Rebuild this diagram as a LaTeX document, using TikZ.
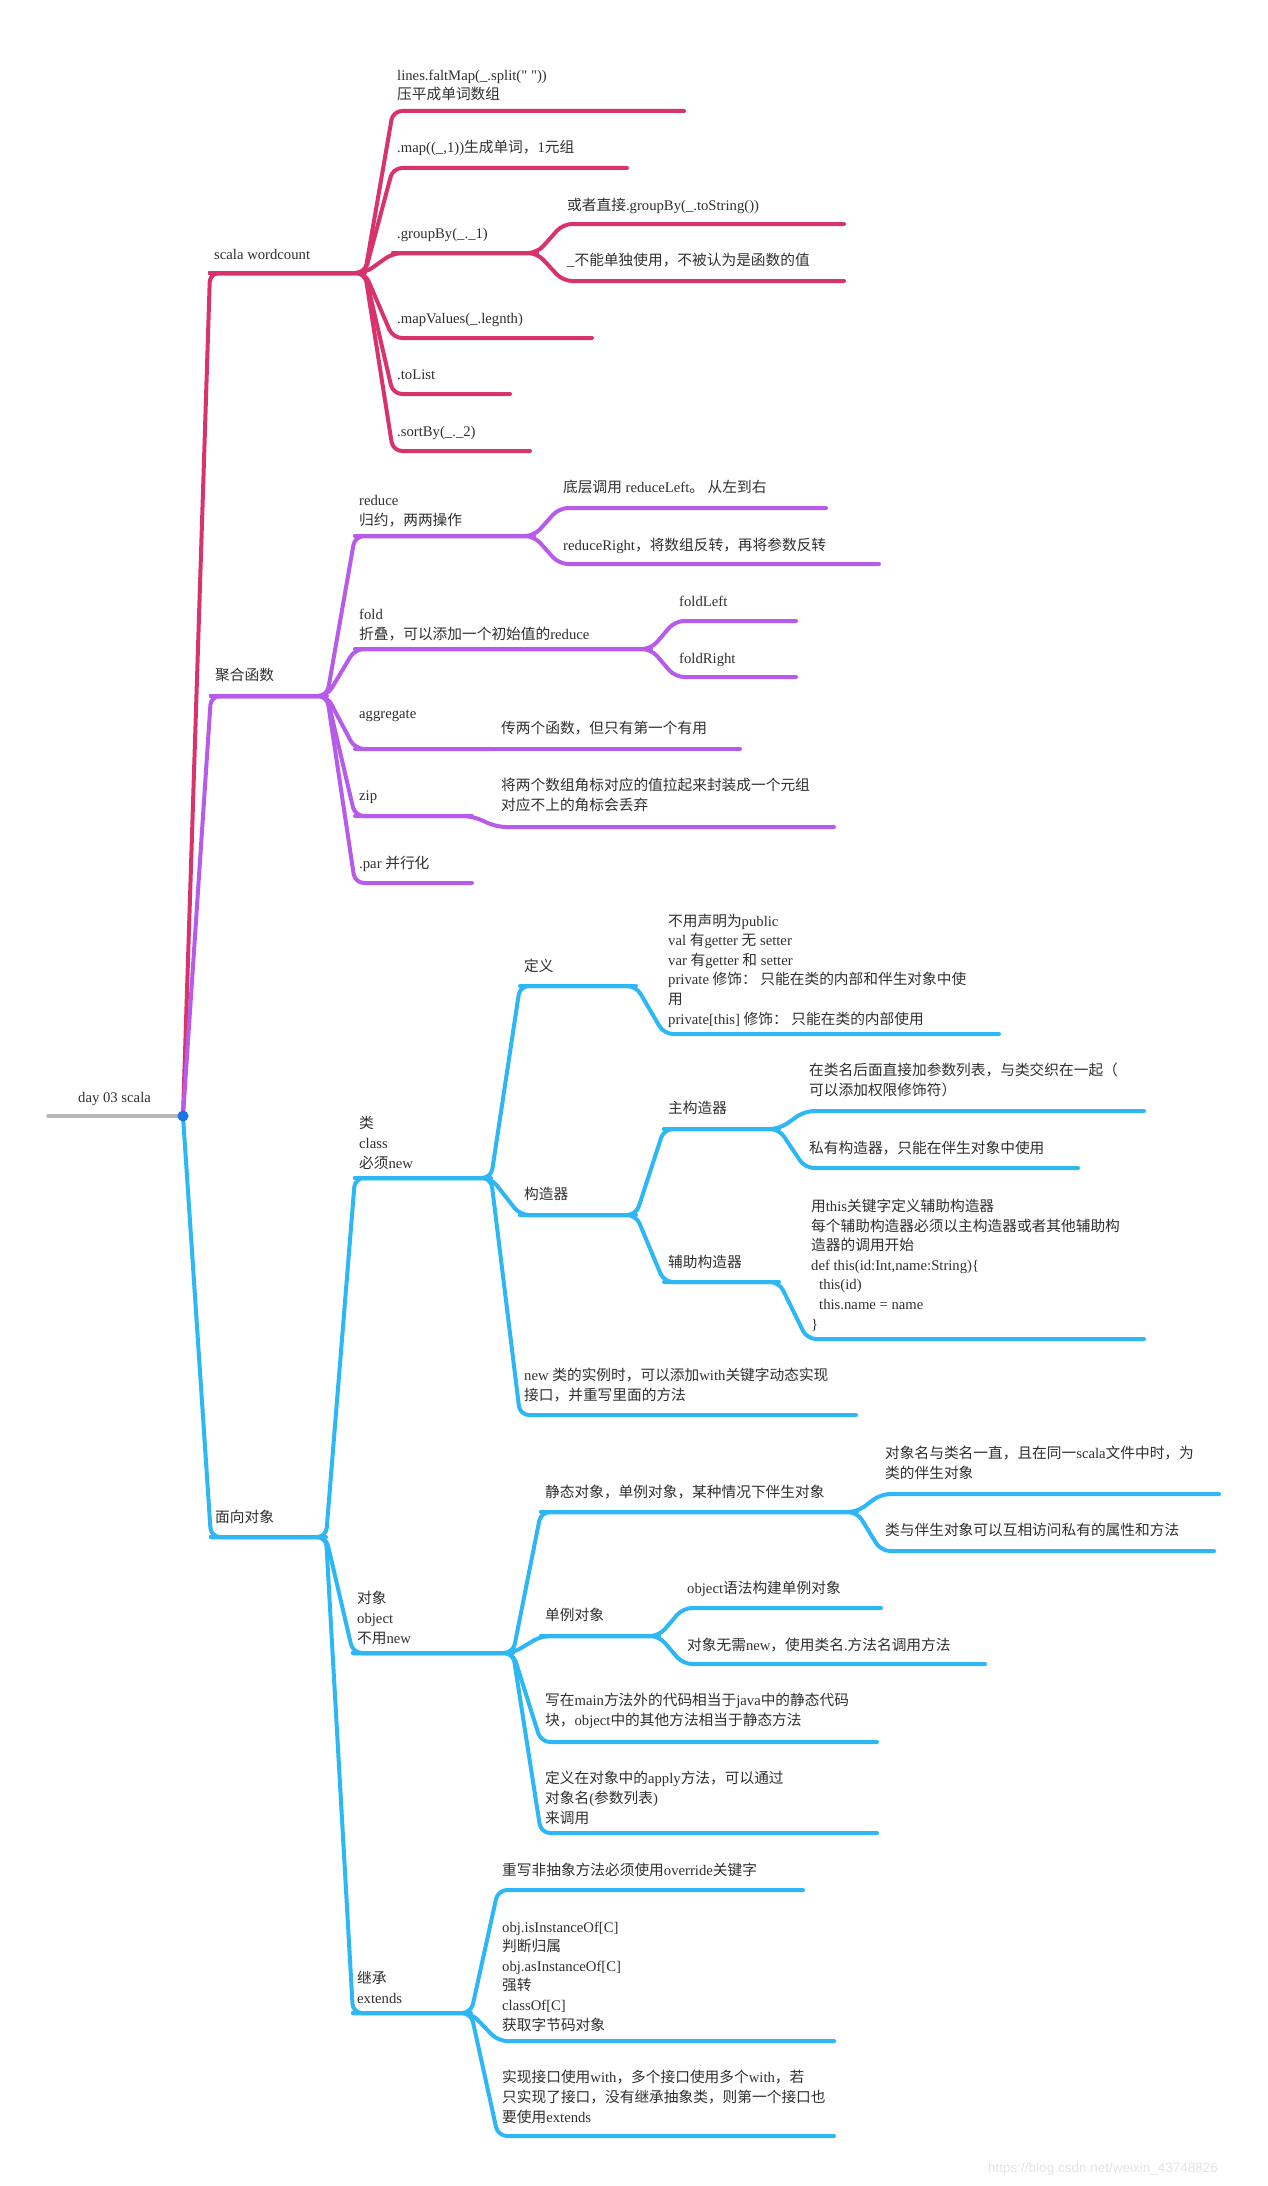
\documentclass[tikz,border=0pt]{standalone}
\usepackage{fontspec}
\setmainfont{Liberation Serif}
\newfontfamily\latinfam{Liberation Serif}
\newfontfamily\cjkfam{Noto Sans CJK SC}
\newfontfamily\wmfont{Liberation Sans}
% automatic switch between Latin and CJK fonts
\XeTeXinterchartokenstate=1
\newXeTeXintercharclass\CJKcls
\newcount\cjkc
\cjkc="3000 \loop \XeTeXcharclass\cjkc=\CJKcls \ifnum\cjkc<"303F \advance\cjkc by 1 \repeat
\cjkc="4E00 \loop \XeTeXcharclass\cjkc=\CJKcls \ifnum\cjkc<"9FFF \advance\cjkc by 1 \repeat
\cjkc="FF00 \loop \XeTeXcharclass\cjkc=\CJKcls \ifnum\cjkc<"FFEF \advance\cjkc by 1 \repeat
\XeTeXinterchartoks 0 \CJKcls = {\cjkfam}
\XeTeXinterchartoks 4095 \CJKcls = {\cjkfam}
\XeTeXinterchartoks \CJKcls 0 = {\latinfam}
\XeTeXinterchartoks \CJKcls 4095 = {\latinfam}

\definecolor{cR}{HTML}{D8336C}
\definecolor{cP}{HTML}{B65BEA}
\definecolor{cB}{HTML}{2DB7F5}
\definecolor{cDot}{HTML}{1A73E8}
\definecolor{cGray}{HTML}{B8B8B8}
\definecolor{tx}{HTML}{303030}
\definecolor{wm}{HTML}{E4E4E4}

\newcommand\ml[1]{\vbox{\halign{##\hfil\cr#1\crcr}}}
% name, color, corner x, underline y, end x, gap to baseline, text
\newcommand\topic[7]{%
  \coordinate (#1c) at (#3,#4);
  \coordinate (#1e) at (#5,#4);
  \node[txt] (#1) at (#3+4,#4-#6) {#7};}
\newcommand\lnk[3]{\draw[ln,#1] (#2c) -- (#2e) -- (#3c) -- (#3e);}

\begin{document}
\begin{tikzpicture}[x=1pt,y=-1pt,
  ln/.style={line width=4pt,line cap=round,line join=round,rounded corners=9pt},
  txt/.style={anchor=base west,inner sep=0pt,text=tx,font=\latinfam\fontsize{14.7}{19.6}\selectfont}]
\fill[white] (0,0) rectangle (1268,2186);
\useasboundingbox (0,0) rectangle (1268,2186);

% root
\coordinate (root) at (183,1116);
\coordinate (rootL) at (48,1116);
\node[txt] (rt) at (78,1102) {day 03 scala};

% ---------- red: scala wordcount
\topic{sc}{cR}{210}{273}{365}{14}{scala wordcount}
\topic{falt}{cR}{393}{111}{684}{11}{\ml{lines.faltMap(\_.split(" "))\cr 压平成单词数组}}
\topic{map}{cR}{393}{168}{627}{15}{.map((\_,1))生成单词，1元组}
\topic{grp}{cR}{393}{253}{537}{15}{.groupBy(\_.\_1)}
\topic{grpA}{cR}{563}{224}{844}{13}{或者直接.groupBy(\_.toString())}
\topic{grpB}{cR}{563}{281}{844}{16}{\_不能单独使用，不被认为是函数的值}
\topic{mapv}{cR}{393}{338}{592}{15}{.mapValues(\_.legnth)}
\topic{tol}{cR}{393}{394}{510}{15}{.toList}
\topic{sort}{cR}{393}{451}{530}{15}{.sortBy(\_.\_2)}

% ---------- purple: 聚合函数
\topic{agg}{cP}{211}{696}{327}{16}{聚合函数}
\topic{red}{cP}{355}{536}{534}{11}{\ml{reduce\cr 归约，两两操作}}
\topic{redA}{cP}{559}{508}{826}{16}{底层调用 reduceLeft。 从左到右}
\topic{redB}{cP}{559}{564}{879}{14}{reduceRight，将数组反转，再将参数反转}
\topic{fold}{cP}{355}{649}{651}{10}{\ml{fold\cr 折叠，可以添加一个初始值的reduce}}
\topic{foldA}{cP}{675}{621}{796}{15}{foldLeft}
\topic{foldB}{cP}{675}{677}{796}{14}{foldRight}
\topic{aggr}{cP}{355}{749}{490}{31}{aggregate}
\topic{aggrA}{cP}{497}{749}{740}{16}{传两个函数，但只有第一个有用}
\topic{zip}{cP}{355}{816}{472}{16}{zip}
\topic{zipA}{cP}{497}{827}{834}{17}{\ml{将两个数组角标对应的值拉起来封装成一个元组\cr 对应不上的角标会丢弃}}
\topic{par}{cP}{355}{883}{472}{15}{.par 并行化}

% ---------- blue: 面向对象
\topic{oo}{cB}{211}{1537}{326}{15}{面向对象}
\topic{cls}{cB}{355}{1178}{491}{10}{\ml{类\cr class\cr 必须new}}
\topic{def}{cB}{520}{986}{636}{15}{定义}
\topic{defA}{cB}{664}{1034}{999}{10}{\ml{不用声明为public\cr val 有getter 无 setter\cr var 有getter 和 setter\cr private 修饰： 只能在类的内部和伴生对象中使\cr 用\cr private[this] 修饰： 只能在类的内部使用}}
\topic{ctor}{cB}{520}{1215}{636}{16}{构造器}
\topic{pri}{cB}{664}{1129}{779}{16}{主构造器}
\topic{priA}{cB}{805}{1111}{1144}{16}{\ml{在类名后面直接加参数列表，与类交织在一起（\cr 可以添加权限修饰符）}}
\topic{priB}{cB}{805}{1168}{1078}{15}{私有构造器，只能在伴生对象中使用}
\topic{aux}{cB}{664}{1282}{779}{15}{辅助构造器}
\topic{auxA}{cB}{807}{1339}{1144}{10}{\ml{用this关键字定义辅助构造器\cr 每个辅助构造器必须以主构造器或者其他辅助构\cr 造器的调用开始\cr def this(id:Int,name:String)\{\cr \kern8pt this(id)\cr \kern8pt this.name = name\cr \}}}
\topic{newc}{cB}{520}{1415}{856}{15}{\ml{new 类的实例时，可以添加with关键字动态实现\cr 接口，并重写里面的方法}}
\topic{obj}{cB}{353}{1653}{513}{10}{\ml{对象\cr object\cr 不用new}}
\topic{sta}{cB}{541}{1512}{857}{15}{静态对象，单例对象，某种情况下伴生对象}
\topic{staA}{cB}{881}{1494}{1219}{16}{\ml{对象名与类名一直，且在同一scala文件中时，为\cr 类的伴生对象}}
\topic{staB}{cB}{881}{1551}{1214}{16}{类与伴生对象可以互相访问私有的属性和方法}
\topic{sgl}{cB}{541}{1636}{659}{16}{单例对象}
\topic{sglA}{cB}{683}{1608}{881}{15}{object语法构建单例对象}
\topic{sglB}{cB}{683}{1664}{985}{14}{对象无需new，使用类名.方法名调用方法}
\topic{mainm}{cB}{541}{1742}{877}{17}{\ml{写在main方法外的代码相当于java中的静态代码\cr 块，object中的其他方法相当于静态方法}}
\topic{apply}{cB}{541}{1833}{877}{10}{\ml{定义在对象中的apply方法，可以通过\cr 对象名(参数列表)\cr 来调用}}
\topic{inh}{cB}{353}{2013}{471}{10}{\ml{继承\cr extends}}
\topic{inhA}{cB}{498}{1890}{803}{15}{重写非抽象方法必须使用override关键字}
\topic{inhB}{cB}{498}{2041}{834}{11}{\ml{obj.isInstanceOf[C]\cr 判断归属\cr obj.asInstanceOf[C]\cr 强转\cr classOf[C]\cr 获取字节码对象}}
\topic{inhC}{cB}{498}{2136}{834}{14}{\ml{实现接口使用with，多个接口使用多个with，若\cr 只实现了接口，没有继承抽象类，则第一个接口也\cr 要使用extends}}

% ---------- connectors
\draw[line width=3.5pt,cGray,line cap=round] (rootL) -- (root);
% red
\draw[ln,cR] (root) -- (scc) -- (sce);
\lnk{cR}{sc}{falt}\lnk{cR}{sc}{map}\lnk{cR}{sc}{grp}
\lnk{cR}{sc}{mapv}\lnk{cR}{sc}{tol}\lnk{cR}{sc}{sort}
\lnk{cR}{grp}{grpA}\lnk{cR}{grp}{grpB}
% purple
\draw[ln,cP] (root) -- (aggc) -- (agge);
\lnk{cP}{agg}{red}\lnk{cP}{agg}{fold}\lnk{cP}{agg}{aggr}
\lnk{cP}{agg}{zip}\lnk{cP}{agg}{par}
\lnk{cP}{red}{redA}\lnk{cP}{red}{redB}
\lnk{cP}{fold}{foldA}\lnk{cP}{fold}{foldB}
\lnk{cP}{aggr}{aggrA}\lnk{cP}{zip}{zipA}
% blue
\draw[ln,cB] (root) -- (ooc) -- (ooe);
\lnk{cB}{oo}{cls}\lnk{cB}{oo}{obj}\lnk{cB}{oo}{inh}
\lnk{cB}{cls}{def}\lnk{cB}{cls}{ctor}\lnk{cB}{cls}{newc}
\lnk{cB}{def}{defA}
\lnk{cB}{ctor}{pri}\lnk{cB}{ctor}{aux}
\lnk{cB}{pri}{priA}\lnk{cB}{pri}{priB}
\lnk{cB}{aux}{auxA}
\lnk{cB}{obj}{sta}\lnk{cB}{obj}{sgl}\lnk{cB}{obj}{mainm}\lnk{cB}{obj}{apply}
\lnk{cB}{sta}{staA}\lnk{cB}{sta}{staB}
\lnk{cB}{sgl}{sglA}\lnk{cB}{sgl}{sglB}
\lnk{cB}{inh}{inhA}\lnk{cB}{inh}{inhB}\lnk{cB}{inh}{inhC}

\fill[cDot] (root) circle (5.5);

% watermark
\node[anchor=base west,inner sep=0pt,text=wm,font=\wmfont\fontsize{13.5}{16}\selectfont] (wmk) at (988,2172) {https://blog.csdn.net/weixin\_43748826};
\end{tikzpicture}
\end{document}
